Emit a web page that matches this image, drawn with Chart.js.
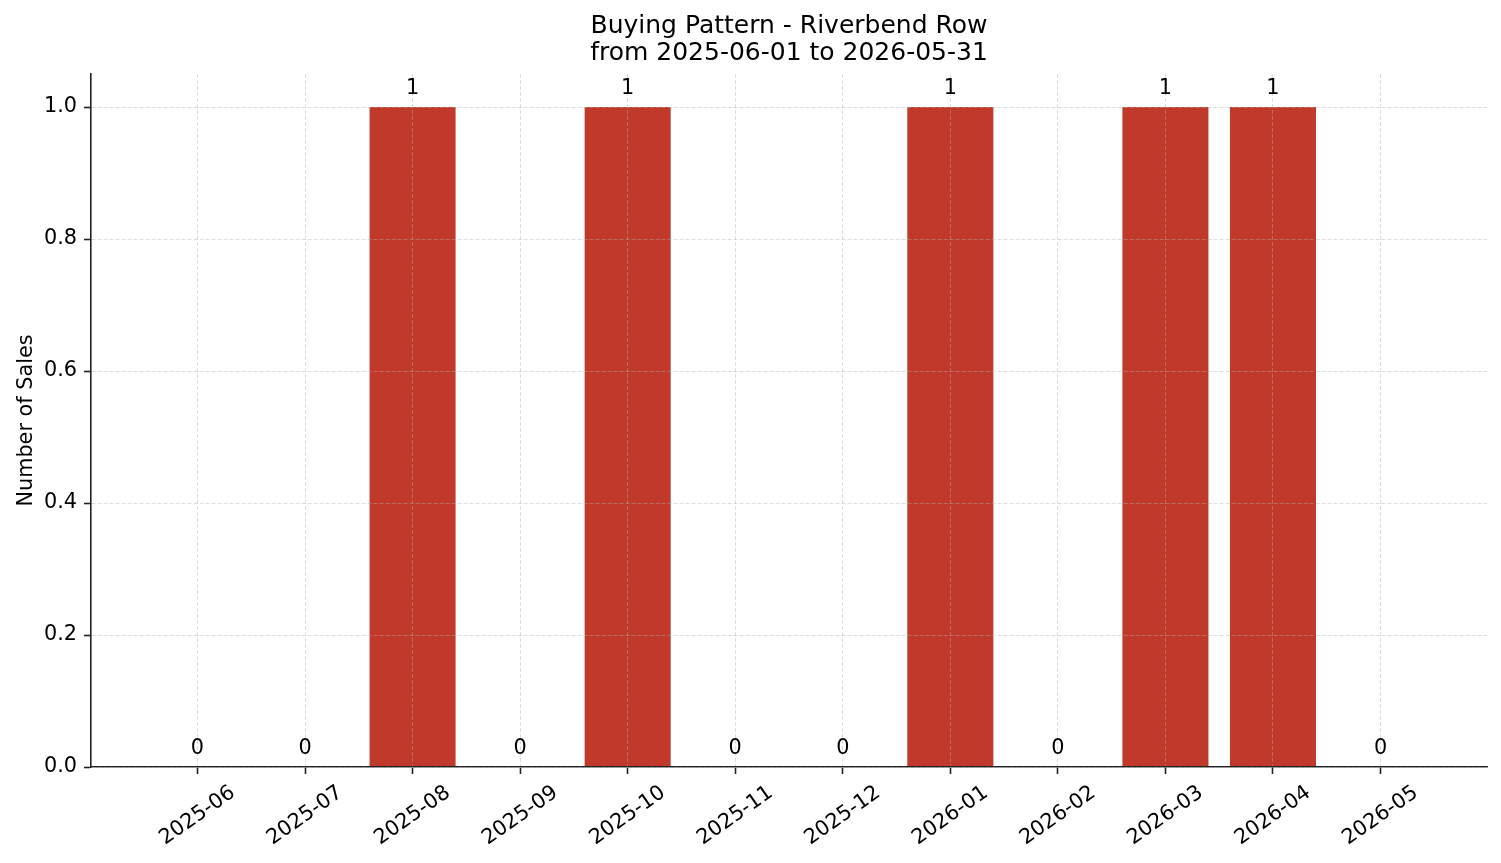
<!DOCTYPE html>
<html>
<head>
<meta charset="utf-8">
<script src="https://cdn.jsdelivr.net/npm/chart.js@4.4.1/dist/chart.umd.min.js"></script>
<style>
  html, body { margin: 0; padding: 0; background: #ffffff; }
  #wrap { width: 1501px; height: 863px; }
</style>
</head>
<body>
<div id="wrap"><canvas id="c" width="1501" height="863"></canvas></div>
<script>
const titleLines = ['Buying Pattern - Riverbend Row', 'from 2025-06-01 to 2026-05-31'];
const yAxisTitle = 'Number of Sales';
const categories = ['2025-06', '2025-07', '2025-08', '2025-09', '2025-10', '2025-11',
                    '2025-12', '2026-01', '2026-02', '2026-03', '2026-04', '2026-05'];
const sales = [0, 0, 1, 0, 1, 0, 0, 1, 0, 1, 1, 0];
const yTickValues = [0, 0.2, 0.4, 0.6, 0.8, 1.0];

const FONT = 'DejaVu Sans';
const TICK_PX = 20.8;
const TITLE_PX = 25;
Chart.defaults.font.family = FONT;
Chart.defaults.color = '#000000';

const GRID_COLOR = 'rgba(176,176,176,0.55)';

const textPlugin = {
  id: 'textPlugin',
  afterDraw(chart) {
    const ctx = chart.ctx;
    const xs = chart.scales.x, ys = chart.scales.y;
    const area = chart.chartArea;
    ctx.save();
    ctx.fillStyle = '#000000';
    // title, centred over the plot area
    ctx.font = TITLE_PX + 'px "' + FONT + '"';
    ctx.textAlign = 'center';
    ctx.textBaseline = 'alphabetic';
    const cx = (area.left + area.right) / 2;
    ctx.fillText(titleLines[0], cx, 33);
    ctx.fillText(titleLines[1], cx, 60);

    ctx.font = TICK_PX + 'px "' + FONT + '"';
    // rotated x tick labels, centered on tick (matplotlib style)
    const ang = 35 * Math.PI / 180;
    categories.forEach((lab, i) => {
      const x = xs.getPixelForValue(i);
      const w = ctx.measureText(lab).width;
      const h = 24;
      const bh = w * Math.sin(ang) + h * Math.cos(ang);
      const cy = area.bottom + 7 + 7 + bh / 2;
      ctx.save();
      ctx.translate(x, cy);
      ctx.rotate(-ang);
      ctx.textAlign = 'center';
      ctx.textBaseline = 'middle';
      ctx.fillText(lab, 0, 0);
      ctx.restore();
    });
    // value labels above bars
    ctx.textAlign = 'center';
    ctx.textBaseline = 'alphabetic';
    sales.forEach((v, i) => {
      const x = xs.getPixelForValue(i);
      const y = ys.getPixelForValue(v) - 13;
      ctx.fillText(String(v), x, y);
    });
    // y axis title
    ctx.save();
    ctx.translate(32, (area.top + area.bottom) / 2);
    ctx.rotate(-Math.PI / 2);
    ctx.textAlign = 'center';
    ctx.textBaseline = 'alphabetic';
    ctx.fillText(yAxisTitle, 0, 0);
    ctx.restore();
    ctx.restore();
  }
};

new Chart(document.getElementById('c'), {
  type: 'bar',
  data: {
    datasets: [{
      data: categories.map((c, i) => ({ x: i, y: sales[i] })),
      backgroundColor: '#c0392b',
      borderWidth: 0,
      barPercentage: 0.8,
      categoryPercentage: 1.0
    }]
  },
  options: {
    responsive: false,
    animation: false,
    devicePixelRatio: 1,
    layout: { padding: { left: 0, right: 14, top: 74, bottom: 0 } },
    plugins: {
      legend: { display: false },
      tooltip: { enabled: false },
      title: { display: false }
    },
    scales: {
      x: {
        type: 'linear',
        position: 'bottom',
        offset: false,
        min: -0.99,
        max: 11.99,
        afterBuildTicks: s => { s.ticks = categories.map((c, i) => ({ value: i })); },
        afterFit: s => { s.height = 96; },
        ticks: { display: false },
        grid: {
          display: true, offset: false, z: 1, color: GRID_COLOR, lineWidth: 0.8,
          drawTicks: true, tickLength: 7, tickWidth: 1.6, tickColor: '#222222', tickBorderDash: []
        },
        border: { display: true, z: 1, color: '#222222', width: 1.6, dash: [4, 2] }
      },
      y: {
        type: 'linear',
        offset: false,
        min: 0,
        max: 1.05,
        afterBuildTicks: s => { s.ticks = yTickValues.map(v => ({ value: v })); },
        afterFit: s => { s.width = 91; },
        ticks: {
          font: { family: FONT, size: TICK_PX },
          color: '#000000',
          padding: 7,
          callback: v => Number(v).toFixed(1)
        },
        grid: {
          display: true, offset: false, z: 1, color: GRID_COLOR, lineWidth: 0.8,
          drawTicks: true, tickLength: 7, tickWidth: 1.6, tickColor: '#222222', tickBorderDash: []
        },
        border: { display: true, z: 1, color: '#222222', width: 1.6, dash: [4, 2] }
      }
    }
  },
  plugins: [textPlugin]
});
</script>
</body>
</html>
